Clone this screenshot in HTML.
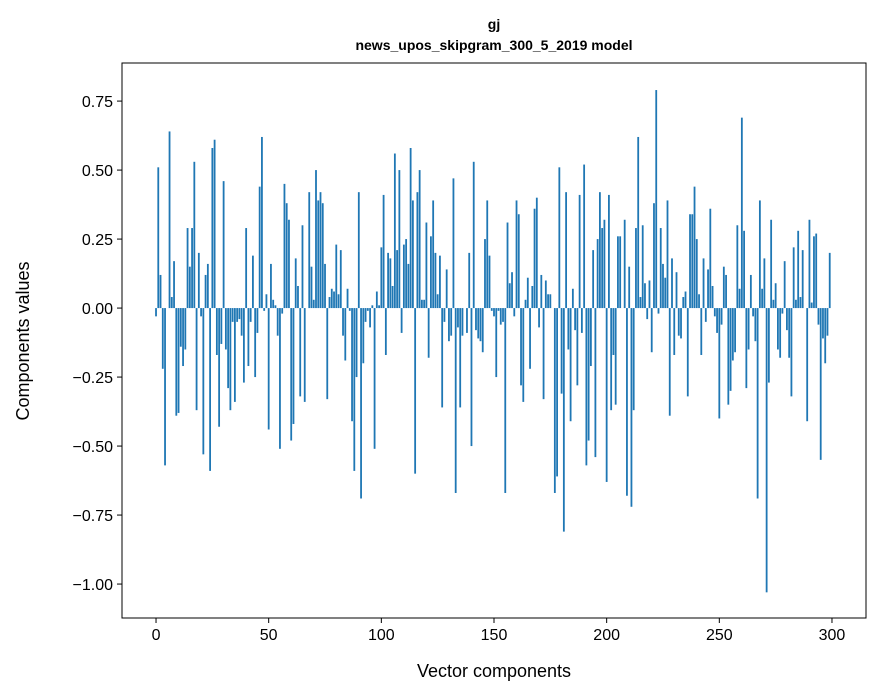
<!DOCTYPE html>
<html><head><meta charset="utf-8">
<style>
html,body{margin:0;padding:0;background:#fff;}
svg{display:block;font-family:"Liberation Sans","DejaVu Sans",sans-serif;}
</style></head>
<body>
<svg id="chart" width="880" height="696" viewBox="0 0 880 696" xmlns="http://www.w3.org/2000/svg">
<rect x="0" y="0" width="880" height="696" fill="#fff"/>
<text x="494" y="29" text-anchor="middle" font-size="14" font-weight="bold">gj</text>
<text x="494" y="50" text-anchor="middle" font-size="14" font-weight="bold">news_upos_skipgram_300_5_2019 model</text>
<g id="bars"></g>
<g id="xticks"></g>
<g id="yticks"></g>
<rect x="122" y="63" width="744" height="555" fill="none" stroke="#000" stroke-width="1"/>
<text x="494" y="677" text-anchor="middle" font-size="18">Vector components</text>
<text transform="translate(29,341) rotate(-90)" text-anchor="middle" font-size="18">Components values</text>
</svg>
<script>
const values = [
-0.03,0.51,0.12,-0.22,-0.57,0.0,0.64,0.04,0.17,-0.39,
-0.38,-0.14,-0.21,-0.15,0.29,0.15,0.29,0.53,-0.37,0.20,
-0.03,-0.53,0.12,0.16,-0.59,0.58,0.61,-0.17,-0.43,-0.13,
0.46,-0.15,-0.29,-0.37,-0.05,-0.34,-0.05,-0.04,-0.10,-0.27,
0.29,-0.21,-0.05,0.19,-0.25,-0.09,0.44,0.62,-0.01,0.05,
-0.44,0.16,0.03,0.01,-0.10,-0.51,-0.02,0.45,0.38,0.32,
-0.48,-0.42,0.18,0.08,-0.32,0.30,-0.34,0.0,0.42,0.15,
0.03,0.50,0.39,0.42,0.38,0.16,-0.33,0.04,0.07,0.06,
0.23,0.05,0.21,-0.10,-0.19,0.07,-0.01,-0.41,-0.59,-0.25,
0.42,-0.69,-0.20,-0.05,-0.01,-0.07,0.01,-0.51,0.06,0.01,
0.22,0.41,-0.17,0.20,0.18,0.08,0.56,0.21,0.50,-0.09,
0.23,0.25,0.16,0.58,0.39,-0.60,0.42,0.50,0.03,0.03,
0.31,-0.18,0.26,0.39,0.20,0.05,0.19,-0.36,-0.05,0.14,
-0.12,-0.10,0.47,-0.67,-0.07,-0.36,-0.10,-0.00,-0.09,0.20,
-0.50,0.53,-0.08,-0.11,-0.12,-0.16,0.25,0.39,0.19,-0.01,
-0.03,-0.25,-0.01,-0.06,-0.05,-0.67,0.31,0.09,0.13,-0.03,
0.39,0.34,-0.28,-0.34,0.03,0.11,-0.22,0.08,0.36,0.40,
-0.07,0.12,-0.33,0.10,0.05,0.05,0.00,-0.67,-0.61,0.51,
-0.31,-0.81,0.42,-0.15,-0.41,0.07,-0.08,-0.28,0.41,-0.09,
0.52,-0.57,-0.48,-0.21,0.21,-0.54,0.25,0.42,0.29,0.32,
-0.63,0.41,-0.37,-0.17,-0.35,0.26,0.26,0.0,0.32,-0.68,
0.15,-0.72,-0.37,0.29,0.62,0.04,0.30,0.09,-0.04,0.10,
-0.16,0.38,0.79,-0.02,0.29,0.16,0.11,0.39,-0.39,0.18,
-0.17,0.13,-0.10,-0.11,0.04,0.06,-0.32,0.34,0.34,0.44,
0.25,0.05,-0.17,0.18,-0.05,0.14,0.36,0.08,-0.03,-0.09,
-0.40,-0.06,0.15,0.12,-0.35,-0.30,-0.19,-0.16,0.30,0.07,
0.69,0.28,-0.29,-0.15,0.12,-0.03,-0.12,-0.69,0.39,0.07,
0.18,-1.03,-0.27,0.32,0.03,0.09,-0.15,-0.18,-0.02,0.17,
-0.08,-0.18,-0.32,0.22,0.03,0.28,0.04,0.21,-0.00,-0.41,
0.32,0.02,0.26,0.27,-0.06,-0.55,-0.11,-0.20,-0.10,0.20
];
const xTickValues = [0,50,100,150,200,250,300];
const xTickLabels = ["0","50","100","150","200","250","300"];
const yTickValues = [-1.0,-0.75,-0.5,-0.25,0,0.25,0.5,0.75];
const yTickLabels = ["\u22121.00","\u22120.75","\u22120.50","\u22120.25","0.00","0.25","0.50","0.75"];

const NS = "http://www.w3.org/2000/svg";
const PL = 122, PR = 866, PT = 63, PB = 618;
const XMIN = -15.1, XMAX = 315.1, YMIN = -1.123, YMAX = 0.888;
function xs(v){ return PL + (v - XMIN) / (XMAX - XMIN) * (PR - PL); }
function ys(v){ return PB - (v - YMIN) / (YMAX - YMIN) * (PB - PT); }

const barsG = document.getElementById('bars');
const bw = xs(0.8) - xs(0);
values.forEach((v, i) => {
  const r = document.createElementNS(NS, 'rect');
  
  
  const y0 = ys(0), y1 = ys(v);
  r.setAttribute('x', xs(i) - bw / 2);
  r.setAttribute('y', Math.min(y0, y1));
  r.setAttribute('width', bw);
  r.setAttribute('height', Math.max(Math.abs(y1 - y0), 0.01));
  r.setAttribute('fill', '#1f77b4');
  barsG.appendChild(r);
});

const xg = document.getElementById('xticks');
xTickValues.forEach((v, k) => {
  const x = xs(v);
  const l = document.createElementNS(NS, 'line');
  
  
  l.setAttribute('x1', x); l.setAttribute('x2', x);
  l.setAttribute('y1', PB); l.setAttribute('y2', PB + 5);
  l.setAttribute('stroke', '#000');
  xg.appendChild(l);
  const t = document.createElementNS(NS, 'text');
  
  
  t.setAttribute('x', x); t.setAttribute('y', PB + 22);
  t.setAttribute('text-anchor', 'middle');
  t.setAttribute('font-size', '16');
  t.textContent = xTickLabels[k];
  xg.appendChild(t);
});

const yg = document.getElementById('yticks');
yTickValues.forEach((v, k) => {
  const y = ys(v);
  const l = document.createElementNS(NS, 'line');
  
  
  l.setAttribute('x1', PL - 5); l.setAttribute('x2', PL);
  l.setAttribute('y1', y); l.setAttribute('y2', y);
  l.setAttribute('stroke', '#000');
  yg.appendChild(l);
  const t = document.createElementNS(NS, 'text');
  
  
  t.setAttribute('x', PL - 9); t.setAttribute('y', y + 6);
  t.setAttribute('text-anchor', 'end');
  t.setAttribute('font-size', '16');
  t.textContent = yTickLabels[k];
  yg.appendChild(t);
});
</script>
</body></html>
